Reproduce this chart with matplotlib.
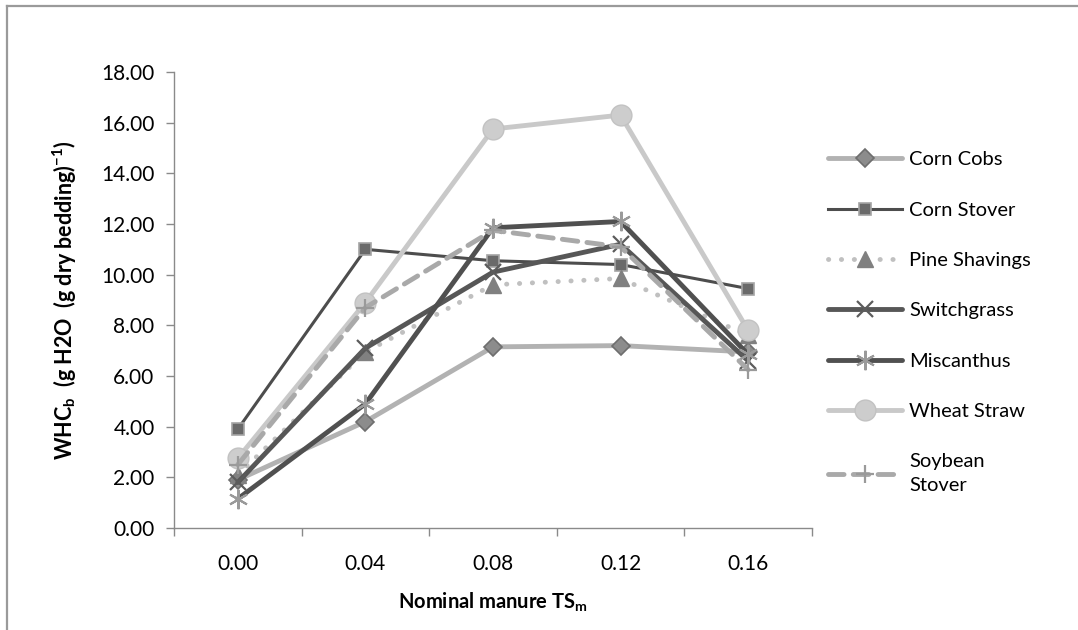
"""WHC of bedding materials vs nominal manure TS - line chart"""

import matplotlib
matplotlib.use("Agg")
import matplotlib.pyplot as plt
from matplotlib.lines import Line2D

plt.rcParams['font.family'] = ['Lato', 'DejaVu Sans']
plt.rcParams['mathtext.fontset'] = 'custom'
plt.rcParams['mathtext.rm'] = 'Lato'
plt.rcParams['mathtext.bf'] = 'Lato:bold'

# data
categories = ["0.00", "0.04", "0.08", "0.12", "0.16"]
corn_cobs = [1.9, 4.2, 7.15, 7.2, 6.95]
corn_stover = [3.9, 11.0, 10.55, 10.4, 9.45]
pine_shavings = [2.1, 6.95, 9.6, 9.85, 7.6]
switchgrass = [1.8, 7.1, 10.1, 11.2, 6.6]
miscanthus = [1.15, 4.9, 11.85, 12.1, 6.85]
wheat_straw = [2.75, 8.9, 15.75, 16.3, 7.8]
soybean_stover = [2.5, 8.7, 11.75, 11.1, 6.25]
y_ticks = [0, 2, 4, 6, 8, 10, 12, 14, 16, 18]

fig = plt.figure(figsize=(10.78, 6.30), dpi=100)
ax = fig.add_axes([0.1614, 0.1619, 0.5918, 0.7238])

common = dict(lw=3.5, solid_capstyle='round', dash_capstyle='round')

ax.plot(categories, corn_cobs, color='#b2b2b2', marker='D', ms=9,
        mfc='#8c8c8c', mec='#6e6e6e', mew=1.2, label='Corn Cobs', **common)
ax.plot(categories, corn_stover, color='#4d4d4d', lw=2.2, marker='s', ms=9,
        mfc='#6a6a6a', mec='#a4a4a4', mew=1.2, label='Corn Stover')
ax.plot(categories, pine_shavings, color='#c0c0c0', linestyle=(0, (0.05, 2.6)),
        marker='^', ms=11, mfc='#808080', mec='#808080',
        label='Pine Shavings', **common)
ax.plot(categories, switchgrass, color='#575757', marker='x', ms=11,
        mec='#5c5c5c', mew=1.6, label='Switchgrass', **common)
ax.plot(categories, miscanthus, color='#505050', marker=(6, 2, 0), ms=14,
        mec='#9a9a9a', mew=1.5, label='Miscanthus', **common)
ax.plot(categories, wheat_straw, color='#c9c9c9', marker='o', ms=15,
        mfc='#cdcdcd', mec='#c2c2c2', label='Wheat Straw', **common)
ax.plot(categories, soybean_stover, color='#a9a9a9', linestyle=(0, (3.2, 1.9)),
        marker='+', ms=13, mec='#9a9a9a', mew=1.6,
        label='Soybean\nStover', **common)

# axes styling
ax.set_xlim(-0.5, 4.5)
ax.set_ylim(0, 18)
ax.set_yticks(y_ticks)
ax.set_yticklabels([f"{v:.2f}" for v in y_ticks])
ax.set_xticks([i - 0.5 for i in range(len(categories) + 1)])
ax.set_xticklabels([])
ax.set_xticks(range(len(categories)), minor=True)
ax.set_xticklabels(categories, minor=True)
ax.tick_params(axis='x', which='major', length=6, color='#8a8a8a', width=1)
ax.tick_params(axis='x', which='minor', length=0, pad=19, labelsize=15)
ax.tick_params(axis='y', length=6, color='#8a8a8a', width=1, pad=8, labelsize=15)

for side in ['top', 'right']:
    ax.spines[side].set_visible(False)
for side in ['left', 'bottom']:
    ax.spines[side].set_color('#8a8a8a')
    ax.spines[side].set_linewidth(1)

ax.set_ylabel(r"WHC$_\mathbf{b}$  (g H2O  (g dry bedding)$^\mathbf{-1}$)",
              fontsize=15.5, fontweight='bold', labelpad=16)
ax.set_xlabel(r"Nominal manure TS$_\mathbf{m}$", fontsize=14.5,
              fontweight='bold', labelpad=12)

leg = fig.legend(loc='upper left', bbox_to_anchor=(0.768, 0.760),
                 frameon=False, fontsize=14.5, handlelength=3.7,
                 handletextpad=0.35, labelspacing=1.65, borderpad=0,
                 borderaxespad=0)
for txt in leg.get_texts():
    txt.set_linespacing(1.5)

# outer chart border (top and left only visible)
fig.add_artist(Line2D([0.0065, 1.0], [0.9905, 0.9905], color='#9a9a9a', lw=1.6))
fig.add_artist(Line2D([0.0065, 0.0065], [0.0, 0.9905], color='#9a9a9a', lw=1.6))

fig.savefig("out.png", dpi=100)
